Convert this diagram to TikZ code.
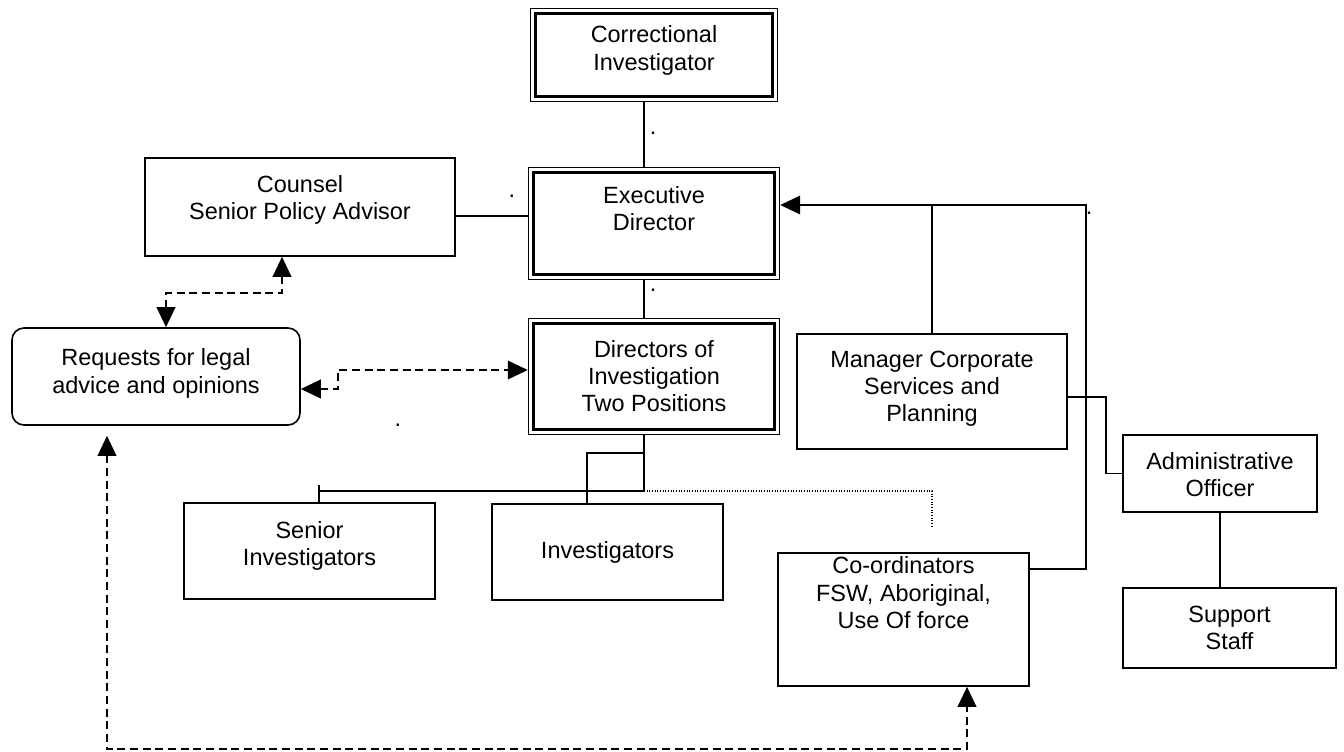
\documentclass[tikz,border=0pt]{standalone}
\usepackage{fontspec}
\setmainfont{Liberation Sans}
\usetikzlibrary{arrows.meta,positioning}

\newcommand{\pxu}{0.75pt}

\begin{document}
\begin{tikzpicture}[x=0.75pt, y=-0.75pt,
  box/.style={draw,line width=1.2pt,align=center,inner sep=2pt,font=\fontsize{17.6pt}{20.3pt}\selectfont},
  dblbox/.style={box,line width=1.8pt,outer sep=4.3pt},
  link/.style={line width=1.2pt},
  tip/.style={-{Triangle[length=15pt,width=14pt]}},
  dashlink/.style={link,dash pattern=on 6pt off 3.5pt,{Triangle[length=15pt,width=14pt]}-{Triangle[length=15pt,width=14pt]}},
  dotline/.style={line width=0.8pt,dash pattern=on 0.8pt off 1.2pt},
  dotmark/.style={inner sep=0pt,font=\fontsize{17.6pt}{20.3pt}\selectfont}]
\useasboundingbox (0,0) rectangle (1344,751);

% boxes
\node[dblbox,minimum width=237*\pxu,minimum height=83*\pxu,text depth=10.5pt] (ci) at (654,55) {Correctional\\Investigator};
\node[dblbox,minimum width=241*\pxu,minimum height=102*\pxu,text depth=22.5pt] (ed) at (654,223.5) {Executive\\Director};
\node[dblbox,minimum width=241*\pxu,minimum height=106*\pxu] (di) at (654,376.5) {Directors of\\Investigation\\Two Positions};
\node[box,minimum width=310*\pxu,minimum height=98*\pxu,text depth=14.25pt] (counsel) at (300,207) {Counsel\\Senior Policy Advisor};
\node[box,rounded corners=9pt,minimum width=288*\pxu,minimum height=97*\pxu,text depth=8.25pt] (req) at (156,376.5) {Requests for legal\\advice and opinions};
\node[box,minimum width=251*\pxu,minimum height=96*\pxu,text depth=11.25pt] (senior) at (309.5,551) {Senior\\Investigators};
\node[box,minimum width=231*\pxu,minimum height=96*\pxu] (inv) at (607.5,552) {Investigators};
\node[box,minimum width=270*\pxu,minimum height=115*\pxu,text depth=7.5pt] (mgr) at (932,391.5) {Manager Corporate\\Services and\\Planning};
\node[box,minimum width=251*\pxu,minimum height=133*\pxu,text depth=40.5pt] (coord) at (903.5,619.5) {Co-ordinators\\FSW, Aboriginal,\\Use Of force};
\node[box,minimum width=194*\pxu,minimum height=77*\pxu,text height=35pt] (admin) at (1220,473.5) {Administrative\\Officer};
\node[box,minimum width=213*\pxu,minimum height=80*\pxu] (support) at (1229.5,628) {Support\\Staff};

% outer frame of the double boxes
\foreach \n in {ci,ed,di}
  \draw[line width=0.9pt] ([shift={(0.5pt,-0.5pt)}]\n.north west) rectangle ([shift={(-0.5pt,0.5pt)}]\n.south east);

% stray marks
\node[dotmark] (dot1) at (653,133) {.};
\node[dotmark] (dot2) at (512,196) {.};
\node[dotmark] (dot3) at (653,290) {.};
\node[dotmark] (dot4) at (398,425) {.};
\node[dotmark] (dot5) at (1089,213) {.};

% bends
\coordinate (spine) at (644,0);
\coordinate (hub) at (644,491);
\coordinate (split) at (644,453);
\coordinate (dotend) at (932,527);
\coordinate (railtop) at (1086,205);
\coordinate (bend1) at (224,293);
\coordinate (bend2) at (338,380);
\coordinate (bend3) at (500,749);

% solid lines
\draw[link] (ci.south -| spine) -- (ed.north -| spine);
\draw[link] ([yshift=-9*\pxu]counsel.east) -- ([yshift=-9*\pxu]counsel.east -| ed.west);
\draw[link] (ed.south -| spine) -- (di.north -| spine);
\draw[link] (di.south -| spine) -- (hub) -- ++(-325,0) coordinate (tick);
\draw[link] ([yshift=6*\pxu]tick) -- (tick |- senior.north);
\draw[link] (split) -| ([xshift=-20.5*\pxu]inv.north);
\draw[dotline] (hub) -| (dotend);
\draw[link,tip] ([yshift=50.5*\pxu]coord.east) -| (railtop) -- (railtop -| ed.east);
\draw[link] (mgr.north) -- (mgr.north |- railtop);
\draw[link] ([yshift=-5.5*\pxu]mgr.east) -- ++(38,0) |- (admin.west);
\draw[link] (admin.south) -- (admin.south |- support.north);

% dashed links
\draw[dashlink] ([xshift=10*\pxu]req.north) |- (bend1) -| ([xshift=-18*\pxu]counsel.south);
\draw[dashlink] ([yshift=-12.5*\pxu]req.east) -| (bend2) |- ([yshift=6.5*\pxu]di.west);
\draw[dashlink,shorten <=10*\pxu] ([xshift=-49*\pxu]req.south) |- (bend3) -| ([xshift=63.5*\pxu]coord.south);
\end{tikzpicture}
\end{document}
